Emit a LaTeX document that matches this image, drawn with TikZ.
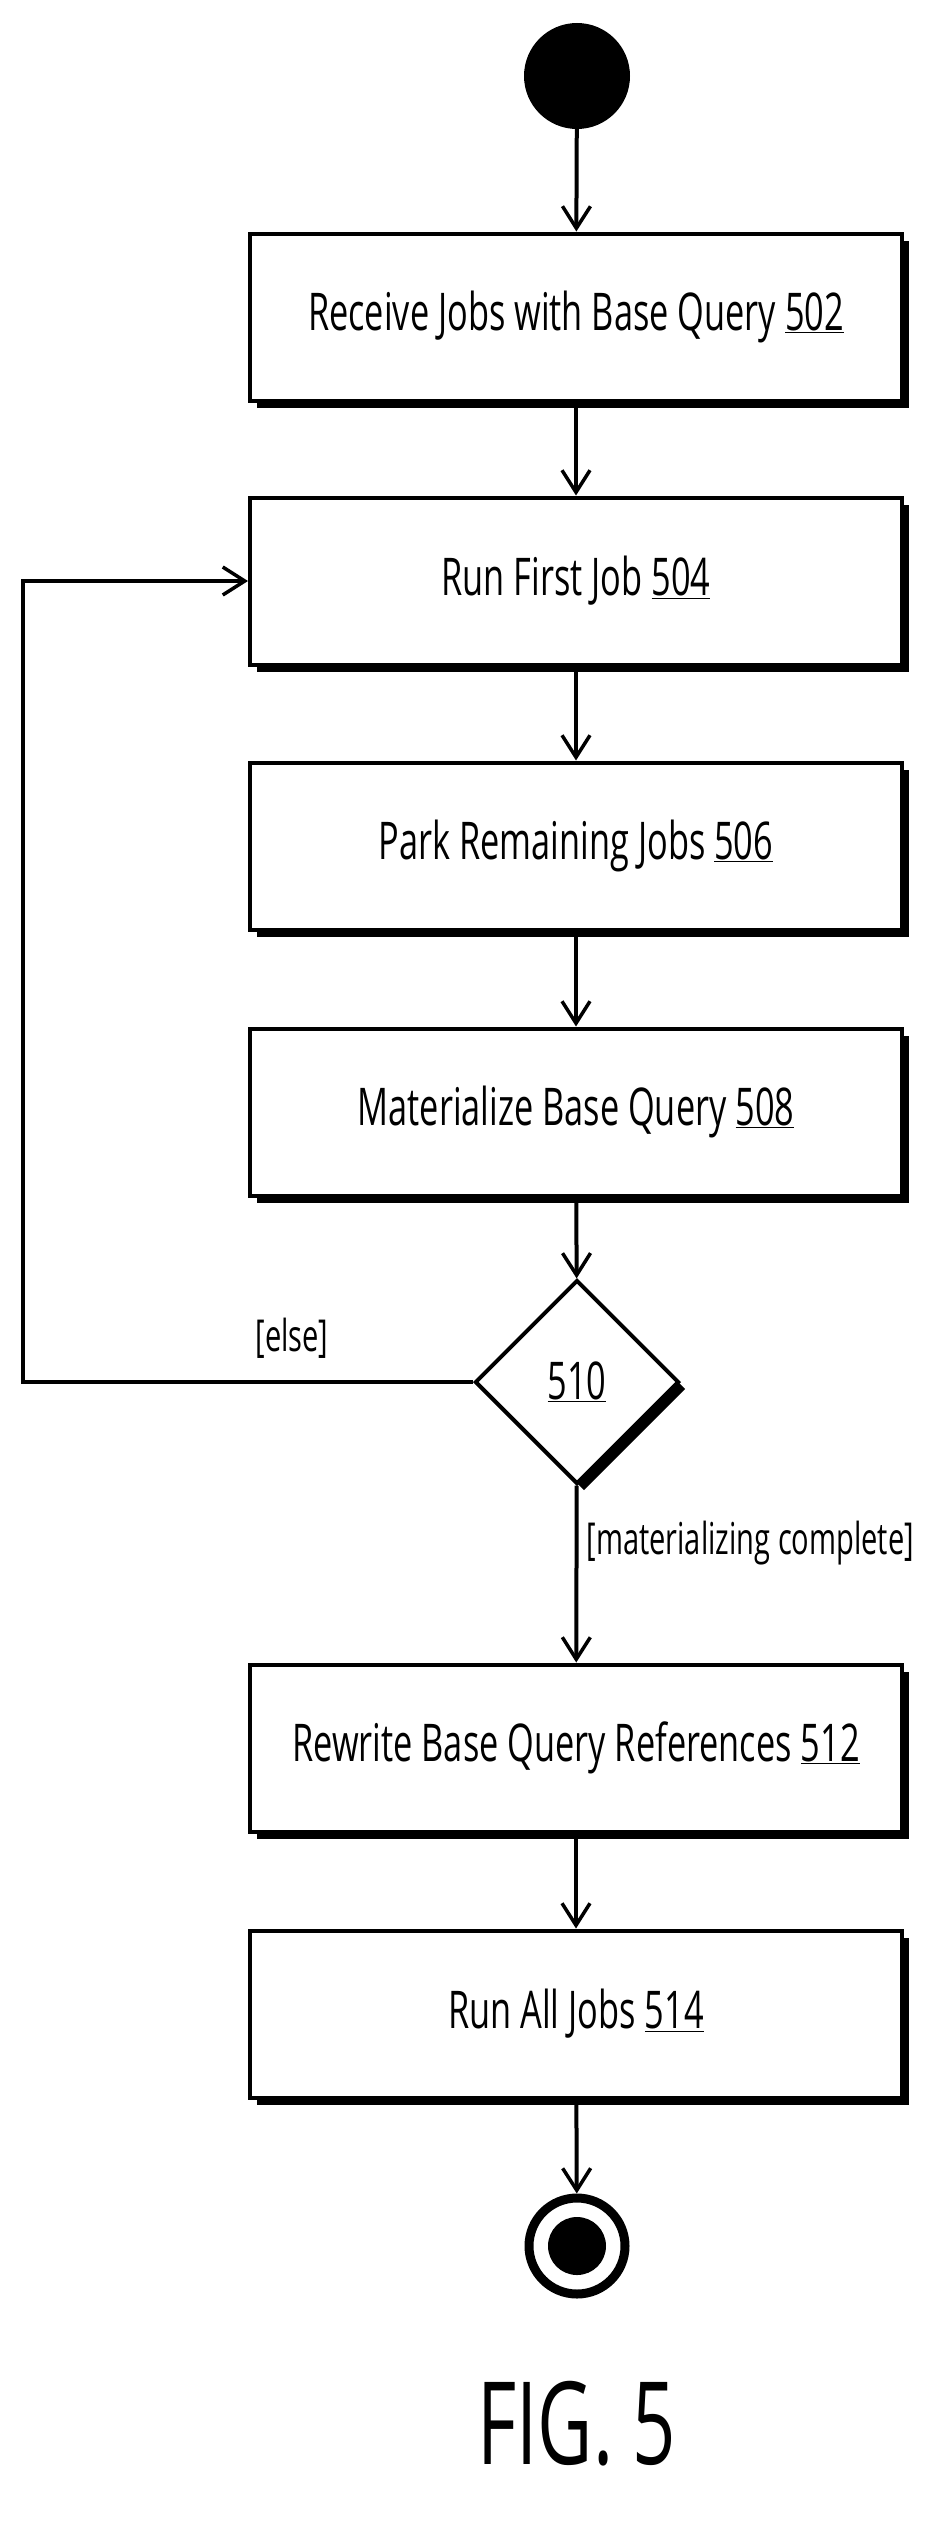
\documentclass[tikz,border=0pt]{standalone}
\usepackage{fontspec}
\setmainfont{Open Sans}[FakeStretch=0.66]
\usetikzlibrary{arrows.meta,shapes.geometric,shadows}
\begin{document}
\begin{tikzpicture}[x=1pt,y=-1pt,
  every node/.style={font=\fontsize{52}{58}\selectfont},
  sh/.style={drop shadow={shadow xshift=7pt,shadow yshift=-7pt,opacity=1,fill=black}},
  box/.style={draw,line width=4pt,fill=white,minimum width=652pt,minimum height=167pt,sh,inner sep=0pt},
  dia/.style={draw,diamond,line width=4pt,fill=white,minimum width=204pt,minimum height=204pt,sh,inner sep=0pt},
  arr/.style={line width=4pt,-{Straight Barb[length=22pt,width=28pt,line width=3.5pt]}},
  lab/.style={font=\fontsize{44}{48}\selectfont}]
\useasboundingbox (0,0) rectangle (926,2521);
\node[circle,fill=black,minimum size=106pt,inner sep=0pt] (s) at (577,76) {};
\node[box] (b1) at (576,317) {Receive Jobs with Base Query \underline{502}};
\node[box] (b2) at (576,581) {Run First Job \underline{504}};
\node[box] (b3) at (576,846) {Park Remaining Jobs \underline{506}};
\node[box] (b4) at (576,1112) {Materialize Base Query \underline{508}};
\node[dia] (d) at (577,1382) {\underline{510}};
\node[box] (b5) at (576,1748) {Rewrite Base Query References \underline{512}};
\node[box] (b6) at (576,2014) {Run All Jobs \underline{514}};
\node[circle,draw,line width=9pt,minimum size=96pt,inner sep=0pt] (e) at (577,2246) {};
\node[circle,fill=black,minimum size=58pt,inner sep=0pt] (ei) at (577,2246) {};
\coordinate (l1) at (23,1382);
\coordinate (l2) at (23,581);
\draw[arr] (s) -- (b1);
\draw[arr] (b1) -- (b2);
\draw[arr] (b2) -- (b3);
\draw[arr] (b3) -- (b4);
\draw[arr] (b4) -- (d);
\draw[arr] (b5) -- (b6);
\draw[arr] (b6) -- (e);
\draw[arr] (d.west) -- (l1) -- (l2) -- (b2.west);
\draw[arr] (d) -- (b5);
\node[lab,anchor=west] (mc) at (583,1543) {[materializing complete]};
\node[lab] (else) at (292,1338) {[else]};
\node[font=\fontsize{115}{120}\selectfont] (fig) at (577,2424) {FIG. 5};
\end{tikzpicture}
\end{document}
